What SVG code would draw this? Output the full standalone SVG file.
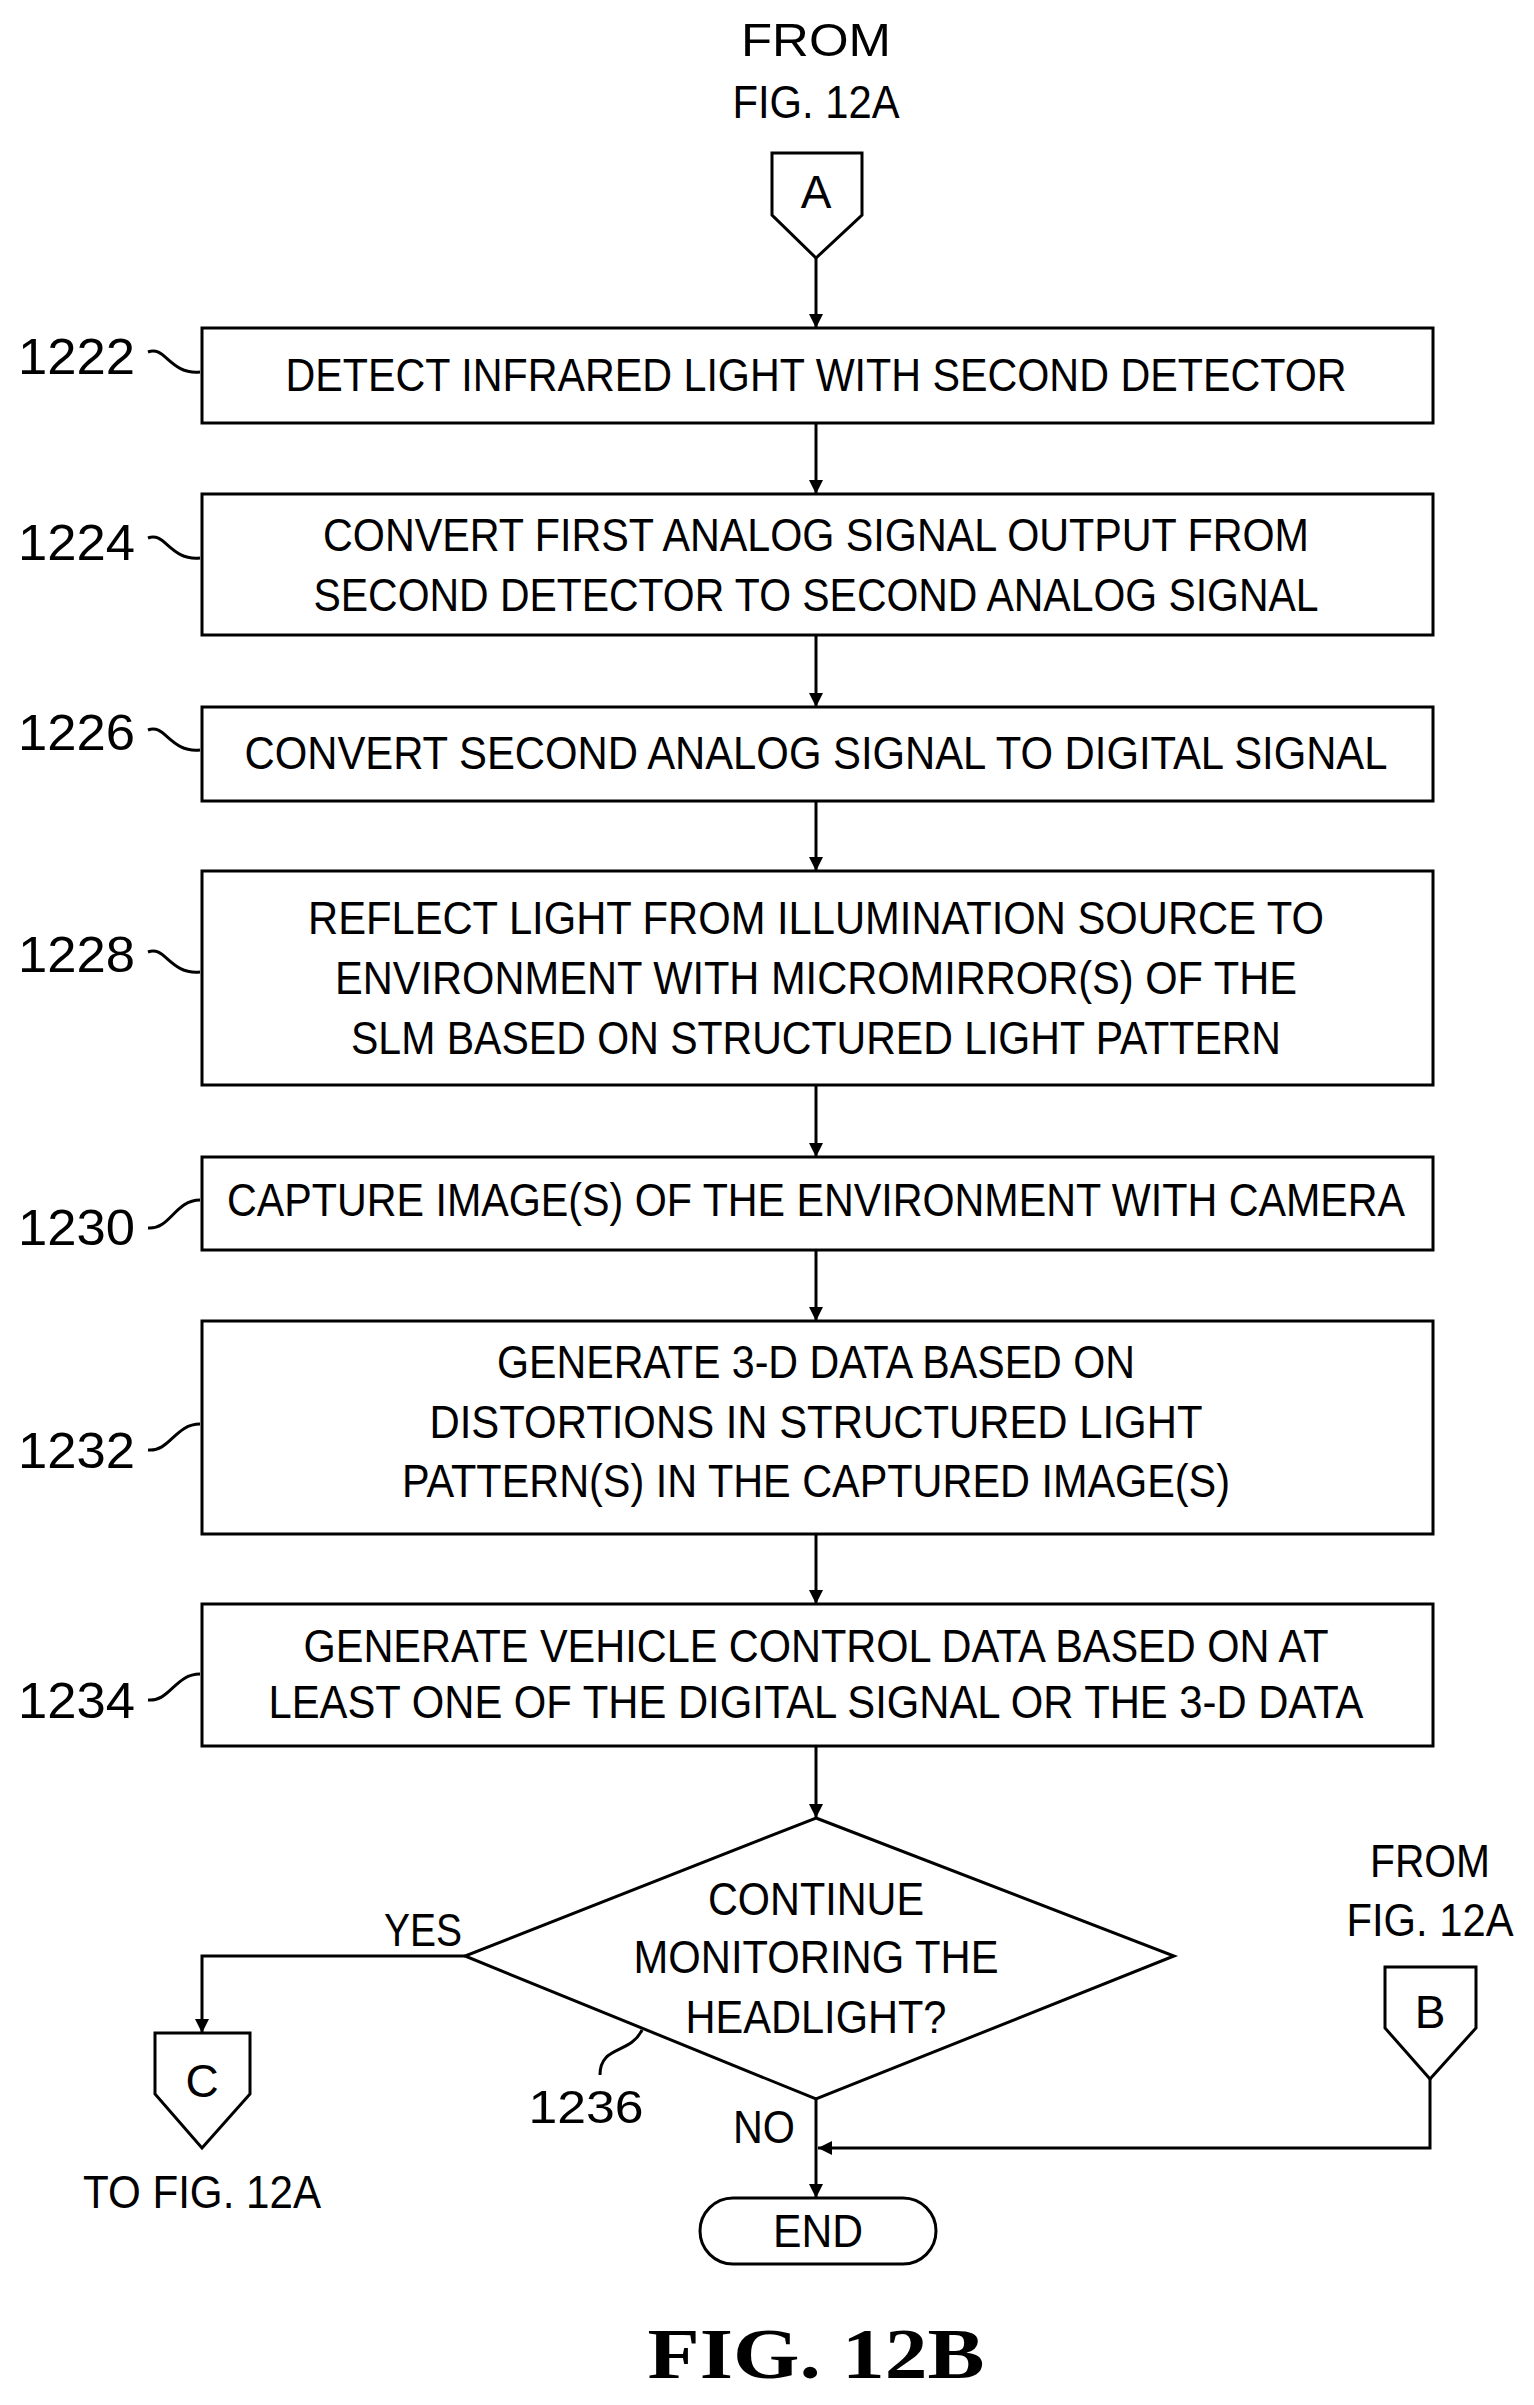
<svg xmlns="http://www.w3.org/2000/svg" width="1534" height="2405" viewBox="0 0 1534 2405">
<style>
.b{fill:#fff;stroke:#000;stroke-width:3}
.t{font-family:"Liberation Sans",Arial,sans-serif;font-size:46px;text-anchor:middle;fill:#000}
.l{font-family:"Liberation Sans",Arial,sans-serif;font-size:50px;text-anchor:start;fill:#000}
.c{fill:none;stroke:#000;stroke-width:3}
</style>
<defs>
<marker id="a" viewBox="0 0 10 10" refX="10" refY="5" markerWidth="18" markerHeight="14" markerUnits="userSpaceOnUse" orient="auto"><path d="M0,0 L10,5 L0,10 z" fill="#000"/></marker></defs>
<g id="connA"><text class="t" x="816" y="56" textLength="150" lengthAdjust="spacingAndGlyphs">FROM</text><text class="t" x="816" y="118" textLength="167" lengthAdjust="spacingAndGlyphs">FIG. 12A</text><path class="b" d="M772,153 H862 V215 L816,258 L772,215 Z"/><text class="t" x="816" y="208">A</text></g>
<g id="n1222"><rect class="b" x="202" y="328" width="1231" height="95"/><text class="t" x="816" y="391" textLength="1061" lengthAdjust="spacingAndGlyphs">DETECT INFRARED LIGHT WITH SECOND DETECTOR</text><text class="l" x="18" y="374" textLength="117" lengthAdjust="spacingAndGlyphs">1222</text><path class="c" d="M148,352 C165,345 170,375 200,372"/></g>
<g id="n1224"><rect class="b" x="202" y="494" width="1231" height="141"/><text class="t" x="816" y="551" textLength="986" lengthAdjust="spacingAndGlyphs">CONVERT FIRST ANALOG SIGNAL OUTPUT FROM</text><text class="t" x="816" y="611" textLength="1005" lengthAdjust="spacingAndGlyphs">SECOND DETECTOR TO SECOND ANALOG SIGNAL</text><text class="l" x="18" y="560" textLength="117" lengthAdjust="spacingAndGlyphs">1224</text><path class="c" d="M148,538 C165,531 170,561 200,558"/></g>
<g id="n1226"><rect class="b" x="202" y="707" width="1231" height="94"/><text class="t" x="816" y="769" textLength="1143" lengthAdjust="spacingAndGlyphs">CONVERT SECOND ANALOG SIGNAL TO DIGITAL SIGNAL</text><text class="l" x="18" y="750" textLength="117" lengthAdjust="spacingAndGlyphs">1226</text><path class="c" d="M148,730 C165,723 170,753 200,750"/></g>
<g id="n1228"><rect class="b" x="202" y="871" width="1231" height="214"/><text class="t" x="816" y="934" textLength="1016" lengthAdjust="spacingAndGlyphs">REFLECT LIGHT FROM ILLUMINATION SOURCE TO</text><text class="t" x="816" y="994" textLength="962" lengthAdjust="spacingAndGlyphs">ENVIRONMENT WITH MICROMIRROR(S) OF THE</text><text class="t" x="816" y="1054" textLength="930" lengthAdjust="spacingAndGlyphs">SLM BASED ON STRUCTURED LIGHT PATTERN</text><text class="l" x="18" y="972" textLength="117" lengthAdjust="spacingAndGlyphs">1228</text><path class="c" d="M148,952 C165,945 170,975 200,972"/></g>
<g id="n1230"><rect class="b" x="202" y="1157" width="1231" height="93"/><text class="t" x="816" y="1216" textLength="1178" lengthAdjust="spacingAndGlyphs">CAPTURE IMAGE(S) OF THE ENVIRONMENT WITH CAMERA</text><text class="l" x="18" y="1245" textLength="117" lengthAdjust="spacingAndGlyphs">1230</text><path class="c" d="M148,1228 C170,1230 175,1200 200,1200"/></g>
<g id="n1232"><rect class="b" x="202" y="1321" width="1231" height="213"/><text class="t" x="816" y="1378" textLength="638" lengthAdjust="spacingAndGlyphs">GENERATE 3-D DATA BASED ON</text><text class="t" x="816" y="1438" textLength="773" lengthAdjust="spacingAndGlyphs">DISTORTIONS IN STRUCTURED LIGHT</text><text class="t" x="816" y="1497" textLength="828" lengthAdjust="spacingAndGlyphs">PATTERN(S) IN THE CAPTURED IMAGE(S)</text><text class="l" x="18" y="1468" textLength="117" lengthAdjust="spacingAndGlyphs">1232</text><path class="c" d="M148,1450 C170,1452 175,1424 200,1424"/></g>
<g id="n1234"><rect class="b" x="202" y="1604" width="1231" height="142"/><text class="t" x="816" y="1662" textLength="1025" lengthAdjust="spacingAndGlyphs">GENERATE VEHICLE CONTROL DATA BASED ON AT</text><text class="t" x="816" y="1718" textLength="1095" lengthAdjust="spacingAndGlyphs">LEAST ONE OF THE DIGITAL SIGNAL OR THE 3-D DATA</text><text class="l" x="18" y="1718" textLength="117" lengthAdjust="spacingAndGlyphs">1234</text><path class="c" d="M148,1700 C170,1702 175,1674 200,1674"/></g>
<g id="n1236"><path class="b" d="M816,1818 L1174,1956 L816,2099 L465,1956 Z"/><text class="t" x="816" y="1915" textLength="216" lengthAdjust="spacingAndGlyphs">CONTINUE</text><text class="t" x="816" y="1973" textLength="365" lengthAdjust="spacingAndGlyphs">MONITORING THE</text><text class="t" x="816" y="2033" textLength="261" lengthAdjust="spacingAndGlyphs">HEADLIGHT?</text><text class="t" x="586" y="2123" textLength="115" lengthAdjust="spacingAndGlyphs">1236</text><path class="c" d="M642,2030 C630,2055 600,2045 600,2075"/></g>
<g id="connC"><path class="b" d="M155,2033 H250 V2094 L202,2148 L155,2094 Z"/><text class="t" x="202" y="2097">C</text><text class="t" x="202" y="2208" textLength="238" lengthAdjust="spacingAndGlyphs">TO FIG. 12A</text></g>
<g id="connB"><text class="t" x="1430" y="1877" textLength="120" lengthAdjust="spacingAndGlyphs">FROM</text><text class="t" x="1430" y="1936" textLength="167" lengthAdjust="spacingAndGlyphs">FIG. 12A</text><path class="b" d="M1385,1967 H1476 V2028 L1430,2079 L1385,2028 Z"/><text class="t" x="1430" y="2028">B</text></g>
<g id="end"><rect class="b" x="700" y="2198" width="236" height="66" rx="33"/><text class="t" x="818" y="2247" textLength="90" lengthAdjust="spacingAndGlyphs">END</text></g>
<g id="connectors">
<path class="c" d="M816,258 V328" marker-end="url(#a)"/>
<path class="c" d="M816,423 V494" marker-end="url(#a)"/>
<path class="c" d="M816,635 V707" marker-end="url(#a)"/>
<path class="c" d="M816,801 V871" marker-end="url(#a)"/>
<path class="c" d="M816,1085 V1157" marker-end="url(#a)"/>
<path class="c" d="M816,1250 V1321" marker-end="url(#a)"/>
<path class="c" d="M816,1534 V1604" marker-end="url(#a)"/>
<path class="c" d="M816,1746 V1818" marker-end="url(#a)"/>
<path class="c" d="M465,1956 H202 V2033" marker-end="url(#a)"/>
<path class="c" d="M816,2099 V2198" marker-end="url(#a)"/>
<path class="c" d="M1430,2079 V2148 H818" marker-end="url(#a)"/>
<text class="t" x="423" y="1946" textLength="78" lengthAdjust="spacingAndGlyphs">YES</text>
<text class="t" x="764" y="2143" textLength="62" lengthAdjust="spacingAndGlyphs">NO</text>
</g>
<text x="816" y="2378" font-family="Liberation Serif,serif" font-size="72" font-weight="bold" text-anchor="middle" textLength="337" lengthAdjust="spacingAndGlyphs">FIG. 12B</text>
</svg>
